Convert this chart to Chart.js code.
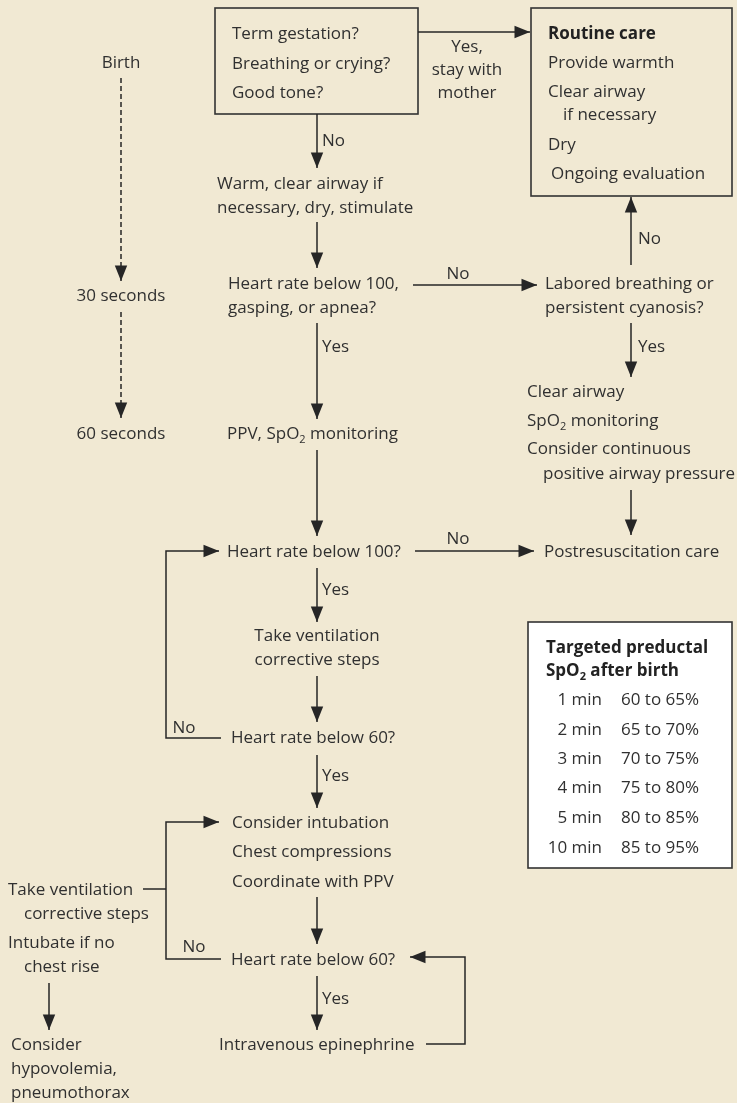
<!DOCTYPE html>
<html>
<head>
<meta charset="utf-8">
<script src="https://cdn.jsdelivr.net/npm/chart.js@4.4.1/dist/chart.umd.min.js"></script>
<style>
  html, body { margin: 0; padding: 0; background: #f1e9d3; }
  canvas { display: block; }
</style>
</head>
<body>
<canvas id="flow" width="737" height="1103"></canvas>
<script>
// --- content of the chart ---
const timeMarks = ['Birth', '30 seconds', '60 seconds'];
const firstQuestions = ['Term gestation?', 'Breathing or crying?', 'Good tone?'];
const yesStay = ['Yes,', 'stay with', 'mother'];
const routineCare = ['Routine care', 'Provide warmth', 'Clear airway', 'if necessary', 'Dry', 'Ongoing evaluation'];
const initialSteps = ['Warm, clear airway if', 'necessary, dry, stimulate'];
const firstCheck = ['Heart rate below 100,', 'gasping, or apnea?'];
const breathingCheck = ['Labored breathing or', 'persistent cyanosis?'];
const breathingSteps = ['Clear airway', 'SpO_2 monitoring', 'Consider continuous', 'positive airway pressure'];
const ppvStep = ['PPV, SpO_2 monitoring'];
const postCare = ['Postresuscitation care'];
const hr100 = ['Heart rate below 100?'];
const correctiveSteps = ['Take ventilation', 'corrective steps'];
const hr60 = ['Heart rate below 60?'];
const advancedSteps = ['Consider intubation', 'Chest compressions', 'Coordinate with PPV'];
const sideSteps = ['Take ventilation', 'corrective steps', 'Intubate if no', 'chest rise'];
const sideConsider = ['Consider', 'hypovolemia,', 'pneumothorax'];
const epinephrine = ['Intravenous epinephrine'];
const answerLabels = ['No', 'No', 'No', 'Yes', 'Yes', 'No', 'Yes', 'No', 'Yes', 'No', 'Yes'];

const tableTitle = ['Targeted preductal', 'SpO_2 after birth'];
const minutes = ['1 min', '2 min', '3 min', '4 min', '5 min', '10 min'];
const targetRanges = ['60 to 65%', '65 to 70%', '70 to 75%', '75 to 80%', '80 to 85%', '85 to 95%'];

// --- layout (in chart units, 1 unit = 1 px) ---
const INK = '#262626';
const TEXT = '#303030';
const BG = '#f1e9d3';
const FONT = '"Open Sans", "Noto Sans", sans-serif';
const SIZE = 17;

// [x, y, x2, y2, fill]
const boxes = [
  [215, 8, 418, 114, BG],
  [531, 8, 732, 196, BG],
  [528, 622, 732, 868, '#ffffff']
];

// connectors: points, arrow at end, dashed
const connectors = [
  { pts: [[121, 78], [121, 281]], arrow: true, dash: true },
  { pts: [[121, 312], [121, 418]], arrow: true, dash: true },
  { pts: [[418, 32], [530, 32]], arrow: true },
  { pts: [[317, 114], [317, 168]], arrow: true },
  { pts: [[317, 222], [317, 268]], arrow: true },
  { pts: [[413, 285], [537, 285]], arrow: true },
  { pts: [[631, 265], [631, 197]], arrow: true },
  { pts: [[631, 323], [631, 377]], arrow: true },
  { pts: [[317, 323], [317, 419]], arrow: true },
  { pts: [[631, 490], [631, 535]], arrow: true },
  { pts: [[317, 450], [317, 536]], arrow: true },
  { pts: [[415, 551], [534, 551]], arrow: true },
  { pts: [[221, 738], [166, 738], [166, 551], [219, 551]], arrow: true },
  { pts: [[317, 568], [317, 622]], arrow: true },
  { pts: [[317, 676], [317, 722]], arrow: true },
  { pts: [[317, 755], [317, 808]], arrow: true },
  { pts: [[221, 959], [166, 959], [166, 822], [219, 822]], arrow: true },
  { pts: [[143, 889], [166, 889]], arrow: false },
  { pts: [[49, 983], [49, 1030]], arrow: true },
  { pts: [[317, 897], [317, 944]], arrow: true },
  { pts: [[317, 976], [317, 1030]], arrow: true },
  { pts: [[426, 1044], [465, 1044], [465, 957], [410, 957]], arrow: true }
];

// text blocks: lines, x, y of each line, align, bold
const blocks = [
  { lines: timeMarks, x: 121, ys: [62, 295, 433], align: 'center' },
  { lines: firstQuestions, x: 232, ys: [33, 63, 92] },
  { lines: yesStay, x: 467, ys: [46, 69, 92], align: 'center' },
  { lines: routineCare.slice(0, 1), x: 548, ys: [33], bold: true, color: '#222' },
  { lines: routineCare.slice(1, 3), x: 548, ys: [62, 91] },
  { lines: routineCare.slice(3, 4), x: 563, ys: [114] },
  { lines: routineCare.slice(4, 5), x: 548, ys: [144] },
  { lines: routineCare.slice(5), x: 551, ys: [173] },
  { lines: initialSteps, x: 217, ys: [183, 207] },
  { lines: firstCheck, x: 228, ys: [283, 307] },
  { lines: breathingCheck, x: 545, ys: [283, 307] },
  { lines: breathingSteps.slice(0, 3), x: 527, ys: [391, 420, 448] },
  { lines: breathingSteps.slice(3), x: 543, ys: [473] },
  { lines: ppvStep, x: 227, ys: [433] },
  { lines: postCare, x: 544, ys: [551] },
  { lines: hr100, x: 227, ys: [551] },
  { lines: correctiveSteps, x: 317, ys: [635, 659], align: 'center' },
  { lines: hr60, x: 231, ys: [737] },
  { lines: advancedSteps, x: 232, ys: [822, 851, 881] },
  { lines: hr60, x: 231, ys: [959] },
  { lines: epinephrine, x: 219, ys: [1044] },
  { lines: [sideSteps[0]], x: 8, ys: [889] },
  { lines: [sideSteps[1]], x: 24, ys: [913] },
  { lines: [sideSteps[2]], x: 8, ys: [942] },
  { lines: [sideSteps[3]], x: 24, ys: [966] },
  { lines: sideConsider, x: 11, ys: [1044, 1068, 1092] },
  { lines: tableTitle, x: 546, ys: [647, 670], bold: true, color: '#222' },
  { lines: minutes, x: 602, ys: [699, 729, 758, 787, 817, 847], align: 'right' },
  { lines: targetRanges, x: 621, ys: [699, 729, 758, 787, 817, 847] }
];

// answer labels: x, y, align
const answerAt = [
  [322, 140, 'left'], [458, 273, 'center'], [458, 538, 'center'],
  [322, 346, 'left'], [638, 346, 'left'], [638, 238, 'left'],
  [322, 589, 'left'], [184, 727, 'center'], [322, 775, 'left'],
  [194, 946, 'center'], [322, 998, 'left']
];

// --- drawing helpers ---
function drawRich(ctx, str, px, py, align, bold, color) {
  const main = (bold ? 'bold ' : '') + SIZE + 'px ' + FONT;
  const sub = (bold ? 'bold ' : '') + Math.round(SIZE * 0.62) + 'px ' + FONT;
  const parts = str.split(/_(\d)/);
  const widths = parts.map((p, i) => {
    ctx.font = i % 2 ? sub : main;
    return ctx.measureText(p).width;
  });
  const total = widths.reduce((a, b) => a + b, 0);
  let x = px;
  if (align === 'center') x = px - total / 2;
  if (align === 'right') x = px - total;
  const base = py + SIZE * 0.36;
  ctx.fillStyle = color || TEXT;
  ctx.textAlign = 'left';
  ctx.textBaseline = 'alphabetic';
  parts.forEach((p, i) => {
    ctx.font = i % 2 ? sub : main;
    ctx.fillText(p, x, i % 2 ? base + SIZE * 0.2 : base);
    x += widths[i];
  });
}

const flowPlugin = {
  id: 'flow',
  beforeDraw(chart) {
    const { ctx, scales: { x, y } } = chart;
    ctx.save();
    ctx.fillStyle = BG;
    ctx.fillRect(0, 0, chart.width, chart.height);
    boxes.forEach(([x1, y1, x2, y2, fill]) => {
      const l = x.getPixelForValue(x1), t = y.getPixelForValue(y1);
      const r = x.getPixelForValue(x2), b = y.getPixelForValue(y2);
      ctx.fillStyle = fill;
      ctx.fillRect(l, t, r - l, b - t);
      ctx.strokeStyle = '#333';
      ctx.lineWidth = 1.6;
      ctx.strokeRect(l, t, r - l, b - t);
    });
    ctx.restore();
  },
  afterDatasetsDraw(chart) {
    const { ctx, scales: { x, y } } = chart;
    ctx.save();
    // arrow heads
    connectors.filter(c => c.arrow).forEach(c => {
      const n = c.pts.length;
      const tx = x.getPixelForValue(c.pts[n - 1][0]), ty = y.getPixelForValue(c.pts[n - 1][1]);
      const fx = x.getPixelForValue(c.pts[n - 2][0]), fy = y.getPixelForValue(c.pts[n - 2][1]);
      const a = Math.atan2(ty - fy, tx - fx);
      const len = 15.5, half = 6.2;
      ctx.fillStyle = INK;
      ctx.beginPath();
      ctx.moveTo(tx, ty);
      ctx.lineTo(tx - len * Math.cos(a) + half * Math.sin(a), ty - len * Math.sin(a) - half * Math.cos(a));
      ctx.lineTo(tx - len * Math.cos(a) - half * Math.sin(a), ty - len * Math.sin(a) + half * Math.cos(a));
      ctx.closePath();
      ctx.fill();
    });
    // text
    blocks.forEach(b => {
      b.lines.forEach((line, i) => {
        drawRich(ctx, line, x.getPixelForValue(b.x), y.getPixelForValue(b.ys[i]), b.align || 'left', b.bold, b.color);
      });
    });
    answerLabels.forEach((label, i) => {
      const [ax, ay, al] = answerAt[i];
      drawRich(ctx, label, x.getPixelForValue(ax), y.getPixelForValue(ay), al, false);
    });
    ctx.restore();
  }
};

const datasets = connectors.map(c => ({
  data: c.pts.map(([px, py]) => ({ x: px, y: py })),
  showLine: true,
  borderColor: INK,
  borderWidth: 1.5,
  borderDash: c.dash ? [5, 3] : [],
  pointRadius: 0,
  fill: false,
  tension: 0
}));

new Chart(document.getElementById('flow').getContext('2d'), {
  type: 'scatter',
  data: { datasets: datasets },
  options: {
    responsive: false,
    animation: false,
    events: [],
    layout: { padding: 0 },
    plugins: { legend: { display: false }, tooltip: { enabled: false } },
    scales: {
      x: { type: 'linear', min: 0, max: 737, display: false },
      y: { type: 'linear', min: 0, max: 1103, reverse: true, display: false }
    }
  },
  plugins: [flowPlugin]
});
</script>
</body>
</html>
